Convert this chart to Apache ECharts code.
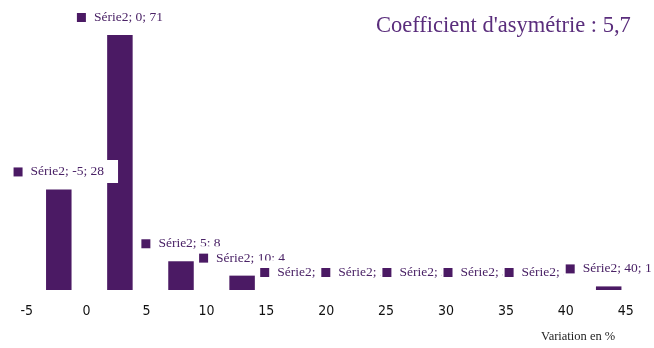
<!DOCTYPE html>
<html>
<head>
<meta charset="utf-8">
<script src="https://cdn.jsdelivr.net/npm/echarts@6/dist/echarts.min.js"></script>
<style>
  html, body { margin: 0; padding: 0; background: #fff; }
  #chart { width: 654px; height: 348px; }
</style>
</head>
<body>
<div id="chart"></div>
<script>
// Distribution des variations (classes de 5 points)
const categories = [-5, 0, 5, 10, 15, 20, 25, 30, 35, 40];
const values = [28, 71, 8, 4, 0, 0, 0, 0, 0, 1];
const seriesName = 'Série2';
const axisMin = -5;
const axisMax = 45;
const axisStep = 5;
const titleText = "Coefficient d'asymétrie : 5,7";
const axisTitle = 'Variation en %';

const purple = '#4b1a64';
const labelColor = '#4a2266';

const chart = echarts.init(document.getElementById('chart'), null, { renderer: 'canvas' });

chart.setOption({
  animation: false,
  backgroundColor: '#fff',
  grid: [
    { left: 28.25, width: 611, top: 2.7, height: 287.3, containLabel: false },
    { left: 26.7, width: 599, top: 2.7, height: 287.3, containLabel: false }
  ],
  xAxis: [
    {
      gridIndex: 0,
      type: 'category',
      data: categories.map(String),
      boundaryGap: true,
      show: false
    },
    {
      gridIndex: 1,
      type: 'value',
      min: axisMin,
      max: axisMax,
      interval: axisStep,
      axisLine: { show: false },
      axisTick: { show: false },
      splitLine: { show: false },
      axisLabel: {
        margin: 14,
        color: '#111',
        fontFamily: "'Liberation Sans Narrow', 'DejaVu Sans Condensed', sans-serif",
        fontSize: 14
      }
    }
  ],
  yAxis: [
    { gridIndex: 0, type: 'value', min: 0, max: 80, show: false },
    { gridIndex: 1, type: 'value', min: 0, max: 80, show: false }
  ],
  series: [
    {
      name: seriesName,
      type: 'bar',
      xAxisIndex: 0,
      yAxisIndex: 0,
      data: values,
      barWidth: 25.5,
      itemStyle: { color: purple },
      label: {
        show: true,
        position: 'top',
        distance: 6.5,
        offset: [6, 0],
        backgroundColor: '#fff',
        padding: [5, 14, 4, 2],
        formatter: function (p) {
          return '{sq|}{t|' + seriesName + '; ' + categories[p.dataIndex] + '; ' + p.value + '}';
        },
        rich: {
          sq: { width: 9, height: 9, backgroundColor: purple },
          t: {
            padding: [0, 0, 0, 8],
            color: labelColor,
            fontFamily: "'Liberation Serif', 'DejaVu Serif', serif",
            fontSize: 13.5
          }
        }
      }
    }
  ],
  graphic: [
    {
      type: 'text',
      left: 376,
      top: 15,
      style: {
        text: titleText,
        fill: '#5a2d7c',
        font: "22.5px 'Liberation Serif', 'DejaVu Serif', serif"
      }
    },
    {
      type: 'text',
      left: 541,
      top: 330,
      style: {
        text: axisTitle,
        fill: '#222',
        font: "12.5px 'Liberation Serif', 'DejaVu Serif', serif"
      }
    }
  ]
});
</script>
</body>
</html>
